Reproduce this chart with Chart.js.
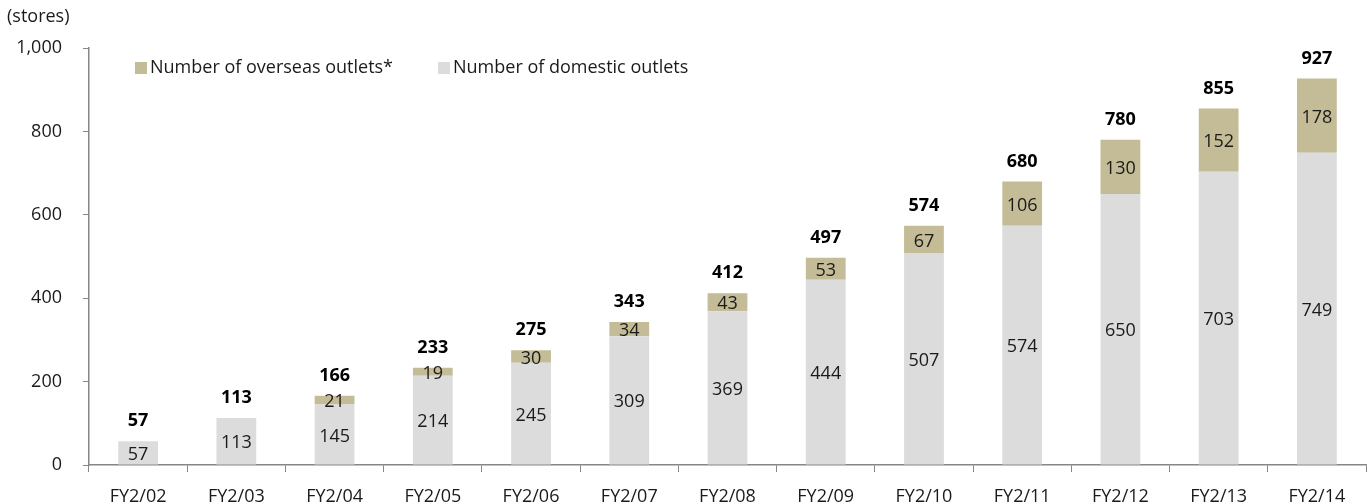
<!DOCTYPE html>
<html>
<head>
<meta charset="utf-8">
<script src="https://cdn.jsdelivr.net/npm/chart.js@4/dist/chart.umd.min.js"></script>
<style>
html,body{margin:0;padding:0;background:#fff;}
#wrap{width:1370px;height:504px;position:relative;}
</style>
</head>
<body>
<div id="wrap"><canvas id="c" width="1370" height="504"></canvas></div>
<script>
const categories = ["FY2/02","FY2/03","FY2/04","FY2/05","FY2/06","FY2/07","FY2/08","FY2/09","FY2/10","FY2/11","FY2/12","FY2/13","FY2/14"];
const domestic = [57,113,145,214,245,309,369,444,507,574,650,703,749];
const overseas = [null,null,21,19,30,34,43,53,67,106,130,152,178];
const totals = [57,113,166,233,275,343,412,497,574,680,780,855,927];
const yTicks = [0,200,400,600,800,1000];
const seriesNames = ["Number of domestic outlets","Number of overseas outlets*"];
const unitLabel = "(stores)";

const FONT = "'Open Sans', 'Noto Sans', sans-serif";
const FS = 18;
const colDom = "#dcdcdc";
const colOv = "#c4bc96";

const labelPlugin = {
  id: 'labels',
  afterDatasetsDraw(chart) {
    const ctx = chart.ctx;
    ctx.save();
    ctx.textAlign = 'center';
    ctx.textBaseline = 'middle';
    ctx.fillStyle = '#1a1a1a';
    ctx.font = FS + 'px ' + FONT;
    chart.data.datasets.forEach((ds, di) => {
      const meta = chart.getDatasetMeta(di);
      meta.data.forEach((bar, i) => {
        const v = ds.data[i];
        if (v == null || v === 0) return;
        const mid = (bar.y + bar.base) / 2;
        ctx.fillText(String(v), bar.x, mid + 2);
      });
    });
    // totals
    ctx.font = 'bold ' + FS + 'px ' + FONT;
    ctx.fillStyle = '#000';
    const ys = chart.scales.y;
    const xs = chart.scales.x;
    totals.forEach((t, i) => {
      ctx.fillText(String(t), xs.getPixelForValue(i), ys.getPixelForValue(t) - 20);
    });
    // unit label
    ctx.font = FS + 'px ' + FONT;
    ctx.textAlign = 'left';
    ctx.fillStyle = '#1a1a1a';
    ctx.fillText(unitLabel, 7, 17);
    // legend
    const items = [{name: seriesNames[1], col: colOv, x: 135}, {name: seriesNames[0], col: colDom, x: 438}];
    items.forEach(it => {
      ctx.fillStyle = it.col;
      ctx.fillRect(it.x, 62, 12, 12);
      ctx.fillStyle = '#1a1a1a';
      ctx.fillText(it.name, it.x + 15, 68);
    });
    ctx.restore();
  }
};

new Chart(document.getElementById('c'), {
  type: 'bar',
  data: {
    labels: categories,
    datasets: [
      {label: seriesNames[0], data: domestic, backgroundColor: colDom, categoryPercentage: 1, barPercentage: 0.405},
      {label: seriesNames[1], data: overseas, backgroundColor: colOv, categoryPercentage: 1, barPercentage: 0.405}
    ]
  },
  options: {
    responsive: false,
    animation: false,
    layout: {padding: {top: 48, right: 4, bottom: 0, left: 0}},
    plugins: {legend: {display: false}, tooltip: {enabled: false}},
    scales: {
      x: {
        stacked: true,
        grid: {display: true, drawOnChartArea: false, offset: true, color: '#868686', tickLength: 7, tickColor: '#868686'},
        border: {color: '#868686', width: 1.5},
        ticks: {font: {family: FONT, size: FS}, color: '#1a1a1a', padding: 14, maxRotation: 0},
        afterFit(s) { s.height = 39; }
      },
      y: {
        stacked: true,
        min: 0, max: 1000,
        afterBuildTicks(s) { s.ticks = yTicks.map(v => ({value: v})); },
        grid: {display: true, drawOnChartArea: false, color: '#868686', tickLength: 6, tickColor: '#868686'},
        border: {color: '#868686', width: 1.5},
        ticks: {font: {family: FONT, size: FS}, color: '#1a1a1a', padding: 21,
          callback: v => v.toLocaleString('en-US')},
        afterFit(s) { s.width = 89; }
      }
    }
  },
  plugins: [labelPlugin]
});
</script>
</body>
</html>
